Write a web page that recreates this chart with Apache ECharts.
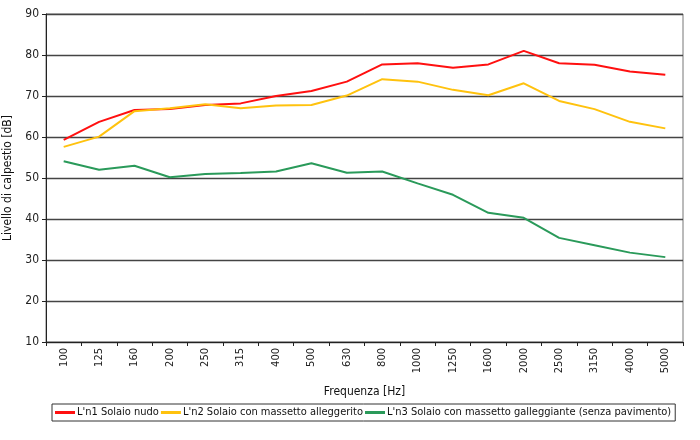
<!DOCTYPE html>
<html><head><meta charset="utf-8">
<script src="https://cdn.jsdelivr.net/npm/echarts@6/dist/echarts.min.js"></script>
<style>html,body{margin:0;padding:0;background:#fff}#c{width:700px;height:440px}</style>
</head><body><div id="c"></div>
<script>
const categories = ['100','125','160','200','250','315','400','500','630','800','1000','1250','1600','2000','2500','3150','4000','5000'];
const ln1 = [59.3,63.7,66.6,66.8,67.8,68.2,70.0,71.2,73.5,77.7,78.0,76.9,77.7,81.0,78.0,77.6,76.0,75.2];
const ln2 = [57.6,60.1,66.3,67.0,68.0,67.0,67.7,67.8,70.1,74.1,73.5,71.5,70.2,73.1,68.8,66.8,63.7,62.1];
const ln3 = [54.1,52.0,53.0,50.2,51.0,51.2,51.6,53.6,51.3,51.6,48.7,45.9,41.5,40.3,35.4,33.6,31.8,30.7];
const seriesNames = ["L'n1 Solaio nudo","L'n2 Solaio con massetto alleggerito","L'n3 Solaio con massetto galleggiante (senza pavimento)"];
const colors = ['#ff1010','#ffc20e','#2a9a5a'];
const FONT = '"DejaVu Sans Condensed","Liberation Sans Narrow",sans-serif';
const chart = echarts.init(document.getElementById('c'), null, {renderer:'canvas'});
chart.setOption({
  animation:false,
  textStyle:{fontFamily:FONT},
  grid:{left:46,right:17,top:14,bottom:98,show:true,borderColor:'#777',borderWidth:1,backgroundColor:'transparent',containLabel:false,outerBoundsMode:'none'},
  legend:{
    data:seriesNames, left:52, top:404,
    borderColor:'#333', borderWidth:1, padding:[3,4,3,3],
    icon:'rect', itemWidth:20, itemHeight:3, itemGap:2,
    textStyle:{fontFamily:FONT, fontSize:11, color:'#111', padding:[0,0,0,-3]}
  },
  xAxis:{
    type:'category', data:categories, boundaryGap:true,
    name:'Frequenza [Hz]', nameLocation:'middle', nameGap:44,
    nameTextStyle:{fontFamily:FONT,fontSize:12,color:'#111'},
    axisLine:{lineStyle:{color:'#222',width:1}},
    axisTick:{show:true,length:4,lineStyle:{color:'#222'}},
    axisLabel:{rotate:90,fontFamily:FONT,fontSize:11,color:'#222',margin:6}
  },
  yAxis:{
    type:'value', min:10, max:90, interval:10,
    name:'Livello di calpestio [dB]', nameLocation:'middle', nameGap:30,
    nameTextStyle:{fontFamily:FONT,fontSize:12,color:'#111'},
    axisLine:{show:true,lineStyle:{color:'#222',width:1}},
    axisTick:{show:true,length:4,lineStyle:{color:'#222'}},
    axisLabel:{fontFamily:FONT,fontSize:12,color:'#222',margin:7},
    splitLine:{lineStyle:{color:'#444',width:1.3}}
  },
  series:[ln1,ln2,ln3].map((d,i)=>({
    name:seriesNames[i], type:'line', data:d, showSymbol:false, symbol:'none',
    lineStyle:{color:colors[i],width:2}, itemStyle:{color:colors[i]}
  }))
});
</script></body></html>
